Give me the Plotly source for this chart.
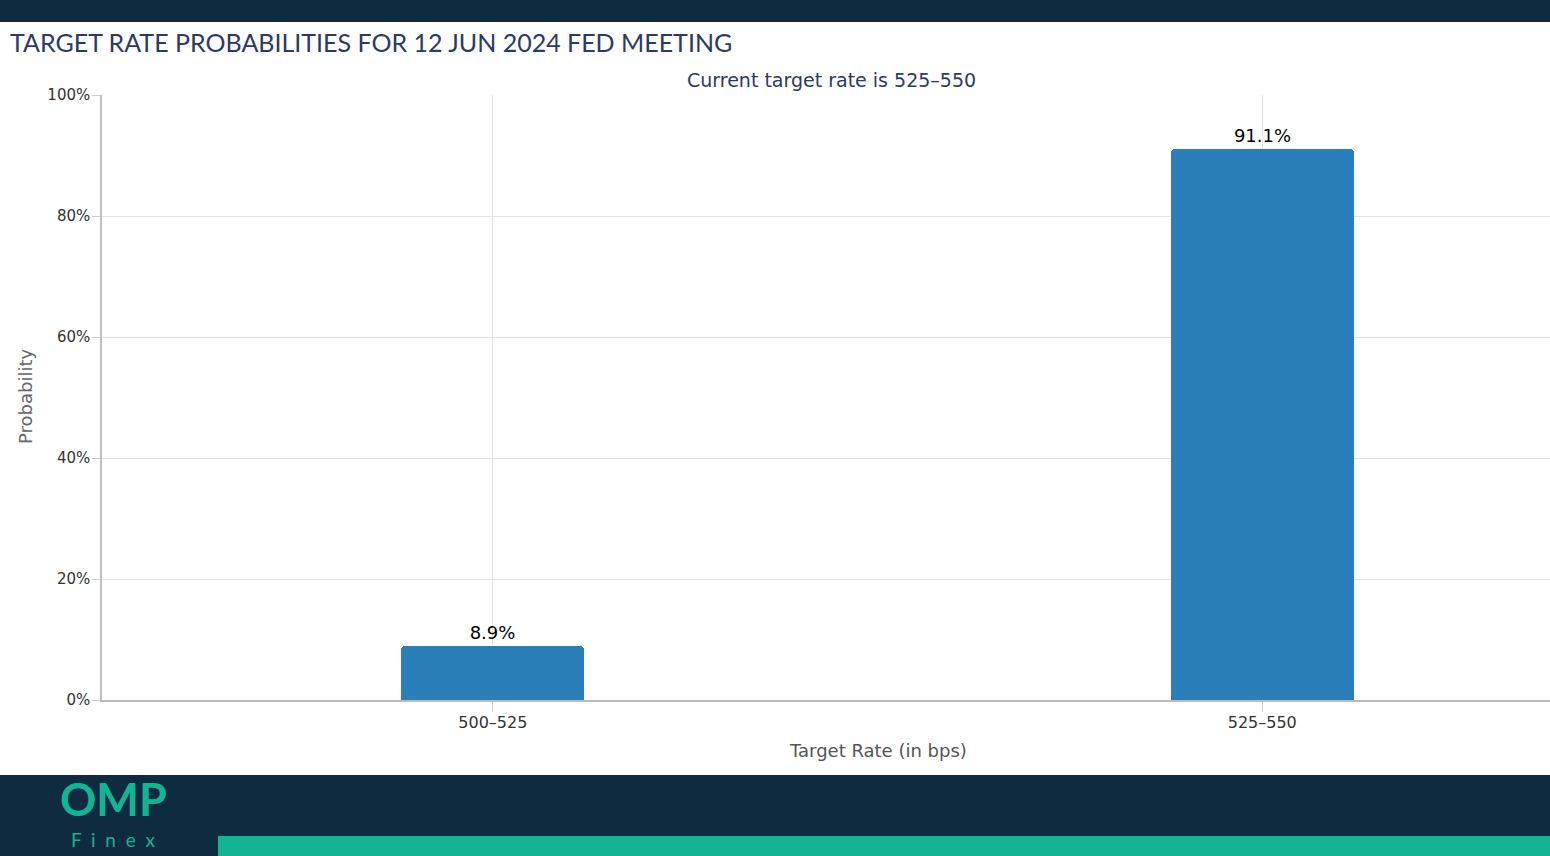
import plotly.graph_objects as go

categories = ["500–525", "525–550"]
probabilities = [8.9, 91.1]
labels = ["8.9%", "91.1%"]
y_ticks = [0, 20, 40, 60, 80, 100]
y_tick_labels = ["0%", "20%", "40%", "60%", "80%", "100%"]

W, H = 1550, 856
L, R, T, B = 102, 0, 95, 156
pw, ph = W - L - R, H - T - B

def px_x(x):
    return (x - L) / pw

def px_y(y):
    return (H - B - y) / ph

NAVY = "#0f2b40"
TEAL = "#12b593"
TFONT = "Lato, 'Open Sans', sans-serif"
FONT = "'DejaVu Sans', Verdana, sans-serif"

fig = go.Figure()
fig.add_trace(go.Bar(
    x=categories, y=probabilities, text=labels,
    textposition="outside", cliponaxis=False,
    textfont=dict(size=18, color="#000000", family=FONT),
    marker=dict(color="#2a7fb8", line=dict(width=0), cornerradius=4),
    width=0.238, hoverinfo="skip",
))

shapes = [
    dict(type="rect", xref="paper", yref="paper", x0=px_x(0), x1=px_x(W), y0=px_y(0), y1=px_y(22),
         fillcolor=NAVY, line=dict(width=0), layer="below"),
    dict(type="rect", xref="paper", yref="paper", x0=px_x(0), x1=px_x(W), y0=px_y(775), y1=px_y(856),
         fillcolor=NAVY, line=dict(width=0), layer="below"),
    dict(type="rect", xref="paper", yref="paper", x0=px_x(218), x1=px_x(W), y0=px_y(836), y1=px_y(856),
         fillcolor=TEAL, line=dict(width=0), layer="above"),
]

annotations = [
    dict(text="Current target rate is 525–550", xref="paper", yref="paper",
         x=px_x(831), y=px_y(80), xanchor="center", yanchor="middle", showarrow=False,
         font=dict(size=19, color="#2b3a67", family=FONT)),
    dict(text="Target Rate (in bps)", xref="paper", yref="paper",
         x=px_x(878), y=px_y(750), xanchor="center", yanchor="middle", showarrow=False,
         font=dict(size=18, color="#555555", family=FONT)),
    dict(text="Probability", xref="paper", yref="paper", textangle=-90,
         x=px_x(25), y=px_y(397), xanchor="center", yanchor="middle", showarrow=False,
         font=dict(size=18, color="#666666", family=FONT)),
    dict(text="<b>OMP</b>", xref="paper", yref="paper",
         x=px_x(113), y=px_y(827), xanchor="center", yanchor="bottom", showarrow=False,
         borderpad=0,
         font=dict(size=45, color=TEAL, family="Lato, 'Open Sans', sans-serif")),
    dict(text="F  i  n  e  x", xref="paper", yref="paper",
         x=px_x(113), y=px_y(827), xanchor="center", yanchor="top", showarrow=False,
         borderpad=0,
         font=dict(size=19, color=TEAL, family="Lato, 'Open Sans', sans-serif")),
]

fig.update_layout(
    width=W, height=H,
    margin=dict(l=L, r=R, t=T, b=B),
    paper_bgcolor="#ffffff", plot_bgcolor="#ffffff",
    showlegend=False,
    title=dict(text="TARGET RATE PROBABILITIES FOR 12 JUN 2024 FED MEETING",
               x=10 / W, y=1 - 43 / H, xanchor="left", yanchor="middle",
               xref="container", yref="container",
               font=dict(size=25, color="#2b3a67", family=TFONT)),
    shapes=shapes, annotations=annotations,
    xaxis=dict(range=[-0.508, 1.374], showgrid=True, gridcolor="#e3e3e3",
               showline=True, linecolor="#bbbbbb", linewidth=1.5,
               ticks="outside", ticklen=10, tickcolor="#cccccc",
               ticklabelstandoff=-3,
               tickfont=dict(size=16, color="#333333", family=FONT),
               fixedrange=True),
    yaxis=dict(range=[0, 100], tickvals=y_ticks, ticktext=y_tick_labels,
               showgrid=True, gridcolor="#e3e3e3", zeroline=False,
               showline=True, linecolor="#c0c0c0", linewidth=1.5,
               ticks="outside", ticklen=8, tickcolor="#cccccc",
               ticklabelstandoff=-1,
               tickfont=dict(size=15, color="#333333", family=FONT),
               fixedrange=True),
    bargap=0,
)

fig.write_html("out.html", config={"displayModeBar": False},
               post_script="document.body.style.margin='0';document.body.style.overflow='hidden';")
